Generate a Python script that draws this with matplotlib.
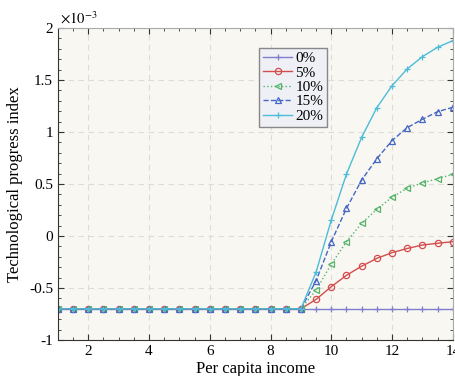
import matplotlib
matplotlib.use("Agg")
import matplotlib.pyplot as plt
from matplotlib.ticker import MultipleLocator, FuncFormatter
import numpy as np

plt.rcParams["font.family"] = ["Liberation Serif", "DejaVu Serif"]
plt.rcParams["mathtext.fontset"] = "stix"
plt.rcParams["axes.unicode_minus"] = False

income = np.arange(1, 14.01, 0.5)
base = [-0.7] * 17  # x = 1 .. 9

s0 = base + [-0.7] * 10
s5 = base + [-0.609, -0.487, -0.378, -0.29, -0.215, -0.16, -0.12, -0.087, -0.07, -0.055]
s10 = base + [-0.52, -0.27, -0.055, 0.122, 0.257, 0.372, 0.46, 0.51, 0.551, 0.593]
s15 = base + [-0.43, -0.055, 0.266, 0.538, 0.743, 0.917, 1.042, 1.122, 1.195, 1.237]
s20 = base + [-0.346, 0.154, 0.596, 0.949, 1.234, 1.445, 1.606, 1.724, 1.814, 1.878]

labels = ["0%", "5%", "10%", "15%", "20%"]
colors = ["#7f7fcc", "#d44d4d", "#55b46a", "#4466c4", "#4cbcd8"]
styles = [("-", "+"), ("-", "o"), (":", "<"), ("--", "^"), ("-", "+")]

fig = plt.figure(figsize=(4.56, 3.76), dpi=100)
ax = fig.add_axes([0.127, 0.0957, 0.866, 0.83])
ax.set_facecolor("#f8f7f2")

for s, lab, c, (ls, mk) in zip([s0, s5, s10, s15, s20], labels, colors, styles):
    ax.plot(income, np.array(s) * 1e-3, ls, color=c, marker=mk, markersize=4.5,
            markerfacecolor="none", markeredgewidth=0.9, linewidth=1.0, label=lab)

ax.set_xlim(1, 14)
ax.set_ylim(-1e-3, 2e-3)
ax.xaxis.set_major_locator(MultipleLocator(2))
ax.xaxis.set_minor_locator(MultipleLocator(0.5))
ax.yaxis.set_major_locator(MultipleLocator(0.5e-3))
ax.yaxis.set_minor_locator(MultipleLocator(0.1e-3))
ax.yaxis.set_major_formatter(FuncFormatter(lambda v, p: "%g" % round(v * 1e3, 3)))
ax.tick_params(which="both", direction="in", top=True, right=True, labelsize=11,
               color="#333333")
ax.tick_params(which="major", length=4)
ax.tick_params(which="minor", length=2)
ax.grid(True, which="major", linestyle=(0, (5, 4)), color="#dcdcdc", linewidth=0.8)
for side in ["top", "right"]:
    ax.spines[side].set_color("#aaaaaa")
for side in ["left", "bottom"]:
    ax.spines[side].set_color("#333333")

ax.text(0.005, 1.003, r"$\times10^{-3}$", transform=ax.transAxes, fontsize=10.5,
        ha="left", va="bottom")
ax.set_xlabel("Per capita income", fontsize=12, labelpad=2)
ax.set_ylabel("Technological progress index", fontsize=12, labelpad=4)

leg = ax.legend(loc="upper left", bbox_to_anchor=(0.51, 0.937), fontsize=11,
                frameon=True, fancybox=False, handlelength=1.9, handletextpad=0.2,
                borderpad=0.25, labelspacing=0.05, borderaxespad=0)
leg.get_frame().set_facecolor("#eef0f5")
leg.get_frame().set_edgecolor("#888888")
leg.get_frame().set_alpha(1)

fig.savefig("out.png", dpi=100)
